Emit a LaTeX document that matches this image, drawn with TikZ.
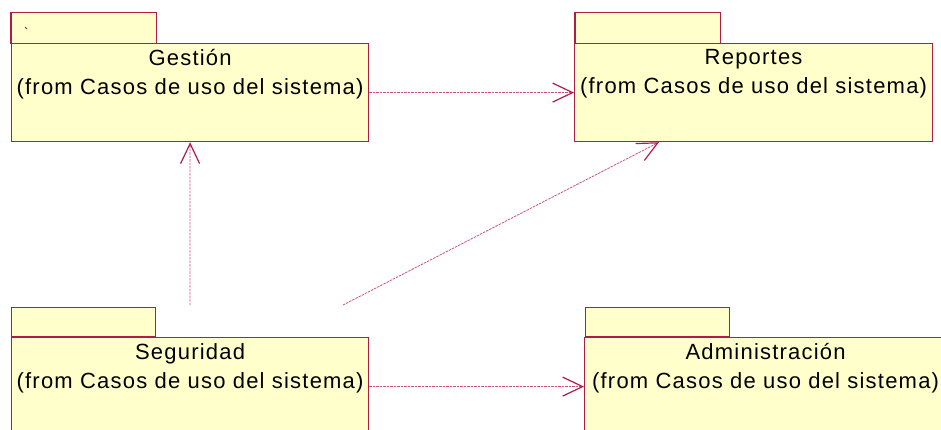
\documentclass[tikz,border=0pt]{standalone}
\usepackage{fontspec}
\usepackage{tikz}
\usepackage{xcolor}
\setmainfont{Liberation Sans}
\newfontfamily\pkgfont[LetterSpace=5.5]{Liberation Sans}
\usetikzlibrary{positioning}
\usetikzlibrary{arrows.meta}
\definecolor{pkgline}{RGB}{176,28,72}
\definecolor{pkgfill}{RGB}{255,255,204}
\definecolor{depline}{RGB}{206,80,128}
\tikzstyle{pkgbody} = [rectangle, minimum width=357pt, minimum height=98pt, inner sep=0pt, anchor=north west, draw=pkgline, fill=pkgfill, line width=1.2pt]
\tikzstyle{pkgtab} = [rectangle, minimum width=144pt, minimum height=29pt, inner sep=0pt, anchor=south west, draw=pkgline, fill=pkgfill, line width=1.2pt]
\tikzstyle{opentab} = [pkgtab, draw=none, minimum height=30pt]
\tikzstyle{tabedge} = [draw=pkgline, line width=1.2pt]
\tikzstyle{pkgtext} = [align=center, font=\pkgfont\fontsize{22}{29}\selectfont, inner sep=0pt]
\tikzstyle{depend} = [draw=depline, line width=0.8pt, dash pattern=on 2.5pt off 1pt, -{Straight Barb[length=20pt, width=19pt, line width=1.2pt, color=pkgline]}]

\begin{document}
\begin{tikzpicture}[x=1pt, y=-1pt]

        \useasboundingbox (0,0) rectangle (941,429);
        \clip (0,0) rectangle (941,429);

        \node (gestionBody) [pkgbody] at (11,43) {};
        \node (gestionTab) [opentab] at (11,44) {};
        \draw [tabedge] (gestionTab.south west) -- (gestionTab.north west) -- (gestionTab.north east) -- (gestionTab.south east);
        \node (gestionText) [pkgtext] at ([yshift=-31pt]gestionBody.north) {Gestión\\(from Casos de uso del sistema)};
        \draw [pkgline, line width=0.8pt] (25,27) -- (27,29);

        \node (reportesBody) [pkgbody, minimum width=358pt] at (574,43) {};
        \node (reportesTab) [opentab] at (575,44) {};
        \draw [tabedge] (reportesTab.south west) -- (reportesTab.north west) -- (reportesTab.north east) -- (reportesTab.south east);
        \node (reportesText) [pkgtext] at ([yshift=-31pt]reportesBody.north) {Reportes\\(from Casos de uso del sistema)};

        \node (seguridadTab) [pkgtab] at (11,337) {};
        \node (seguridadBody) [pkgbody] at (11,337) {};
        \node (seguridadText) [pkgtext] at ([yshift=-31pt]seguridadBody.north) {Seguridad\\(from Casos de uso del sistema)};

        \node (adminTab) [pkgtab] at (585,337) {};
        \node (adminBody) [pkgbody, minimum width=362pt] at (584,337) {};
        \node (adminText) [pkgtext] at ([yshift=-31pt]adminBody.north) {Administración\\(from Casos de uso del sistema)};

        \coordinate (segUp) at (190,305);
        \coordinate (segDiag) at (343,305);

        \draw [depend] (gestionBody.east) -- (reportesBody.west);
        \draw [depend] (segUp) -- (gestionBody.south);
        \draw [depend] (segDiag) -- ([xshift=85pt]reportesBody.south west);
        \draw [depend] (seguridadBody.east) -- (adminBody.west);

    \end{tikzpicture}
\end{document}
